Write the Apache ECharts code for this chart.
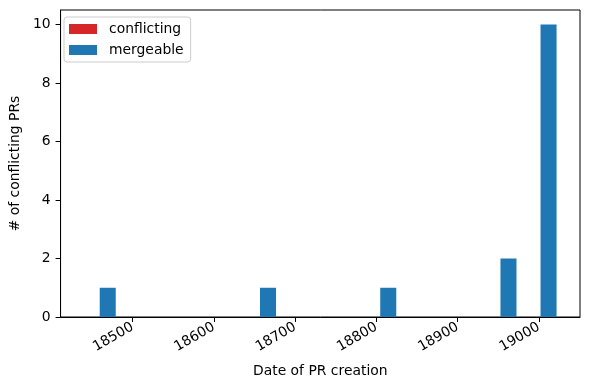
<!DOCTYPE html>
<html>
<head>
<meta charset="utf-8">
<script src="https://cdn.jsdelivr.net/npm/echarts@6/dist/echarts.min.js"></script>
<style>
html,body{margin:0;padding:0;background:#fff;}
#chart{width:590px;height:390px;}
</style>
</head>
<body>
<div id="chart"></div>
<script>
// Histogram bin edges (date of PR creation, days) and counts per bin
const binEdges = [18435.0, 18484.3, 18533.6, 18582.9, 18632.2, 18681.5, 18730.8, 18780.1, 18829.4, 18878.7, 18928.0, 18977.3, 19026.6];
const conflicting = [0, 0, 0, 0, 0, 0, 0, 0, 0, 0, 0, 0];
const mergeable = [1, 0, 0, 0, 1, 0, 0, 1, 0, 0, 2, 10];
const seriesNames = ['conflicting', 'mergeable'];
const xTicks = [18500, 18600, 18700, 18800, 18900, 19000];
const yTicks = [0, 2, 4, 6, 8, 10];

const FONT = 'DejaVu Sans';
const FS = 13.9;

function toData(counts) {
  return counts.map((c, i) => [binEdges[i], binEdges[i + 1], c]);
}

function makeRender(slot) {
  return function (params, api) {
    const l = api.value(0), r = api.value(1), c = api.value(2);
    const w = r - l;
    const x0 = l + w * (0.1 + 0.4 * slot);
    const x1 = x0 + 0.4 * w;
    if (!c) return { type: 'group', children: [] };
    const p0 = api.coord([x0, c]);
    const p1 = api.coord([x1, 0]);
    return {
      type: 'rect',
      shape: { x: p0[0], y: p0[1], width: p1[0] - p0[0], height: p1[1] - p0[1] },
      style: { fill: api.visual('color'), stroke: null, lineWidth: 0 }
    };
  };
}

const chart = echarts.init(document.getElementById('chart'), null, { renderer: 'canvas' });
chart.setOption({
  animation: false,
  color: ['#d62728', '#1f77b4'],
  textStyle: { fontFamily: FONT },
  grid: { left: 58, right: 10, top: 10, bottom: 73, show: true, borderColor: '#000', borderWidth: 1, backgroundColor: 'transparent' },
  legend: {
    orient: 'vertical',
    left: 64, top: 17,
    padding: [5, 7, 5, 5],
    itemWidth: 28, itemHeight: 10, itemGap: 7,
    borderColor: '#cccccc', borderWidth: 1, borderRadius: 3,
    backgroundColor: 'rgba(255,255,255,0.8)',
    textStyle: { fontFamily: FONT, fontSize: FS, color: '#000', padding: [0, 0, 0, 7] },
    data: seriesNames.map(n => ({ name: n, icon: 'rect' }))
  },
  xAxis: {
    type: 'value',
    min: 18411.5, max: 19050.5,
    name: 'Date of PR creation',
    nameLocation: 'middle', nameGap: 47,
    nameTextStyle: { fontFamily: FONT, fontSize: FS, color: '#000' },
    axisLine: { show: true, lineStyle: { color: '#000', width: 1 } },
    axisTick: { show: true, length: 5, lineStyle: { color: '#000' }, customValues: xTicks },
    axisLabel: { show: true, rotate: 30, margin: 9, fontFamily: FONT, fontSize: FS, color: '#000', customValues: xTicks, formatter: v => String(v) },
    splitLine: { show: false }
  },
  yAxis: {
    type: 'value',
    min: 0, max: 10.5,
    name: '# of conflicting PRs',
    nameLocation: 'middle', nameGap: 36,
    nameTextStyle: { fontFamily: FONT, fontSize: FS, color: '#000' },
    axisLine: { show: true, lineStyle: { color: '#000', width: 1 } },
    axisTick: { show: true, length: 5, lineStyle: { color: '#000' }, customValues: yTicks },
    axisLabel: { show: true, margin: 10, fontFamily: FONT, fontSize: FS, color: '#000', customValues: yTicks, formatter: v => String(v) },
    splitLine: { show: false }
  },
  series: [
    { name: seriesNames[0], type: 'custom', renderItem: makeRender(0), encode: { x: [0, 1], y: 2 }, itemStyle: { color: '#d62728' }, data: toData(conflicting) },
    { name: seriesNames[1], type: 'custom', renderItem: makeRender(1), encode: { x: [0, 1], y: 2 }, itemStyle: { color: '#1f77b4' }, data: toData(mergeable) }
  ]
});
</script>
</body>
</html>
